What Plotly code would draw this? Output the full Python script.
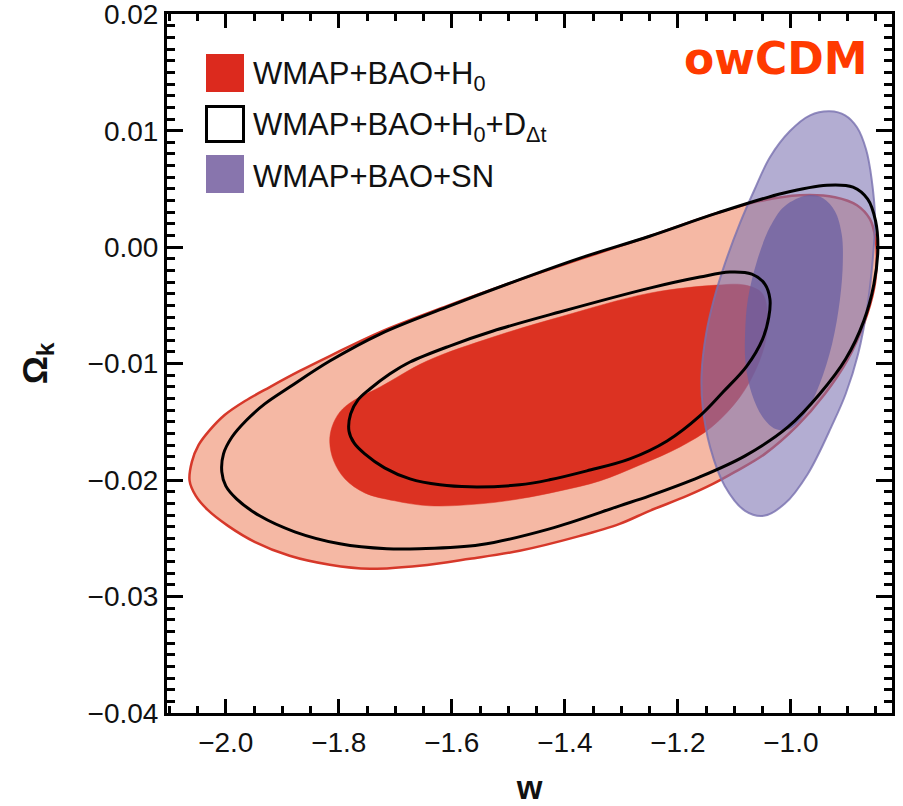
import plotly.graph_objects as go

# ---------------- data ----------------
# WMAP+BAO+H0, outer (95%) contour
red95_w = [-2.064, -2.060, -2.048, -2.028, -2.002, -1.966, -1.922, -1.869, -1.816, -1.727,
           -1.609, -1.492, -1.373, -1.250, -1.131, -1.055, -0.984, -0.922, -0.883, -0.860,
           -0.850, -0.848, -0.853, -0.871, -0.899, -0.940, -0.989, -1.046, -1.099, -1.138,
           -1.184, -1.250, -1.303, -1.373, -1.480, -1.568, -1.657, -1.745, -1.816, -1.887,
           -1.949, -1.996, -2.032, -2.053]
red95_ok = [-0.02007, -0.01844, -0.01698, -0.01569, -0.01441, -0.01321, -0.01201, -0.01063, -0.00935, -0.00729,
            -0.00506, -0.00300, -0.00103, 0.00094, 0.00292, 0.00395, 0.00446, 0.00429, 0.00360, 0.00240,
            0.00069, -0.00120, -0.00360, -0.00660, -0.00961, -0.01261, -0.01535, -0.01775, -0.01930, -0.02033,
            -0.02136, -0.02264, -0.02376, -0.02479, -0.02607, -0.02676, -0.02736, -0.02762, -0.02727, -0.02650,
            -0.02530, -0.02393, -0.02256, -0.02136]

# WMAP+BAO+H0, inner (68%) contour
red68_w = [-1.816, -1.812, -1.798, -1.775, -1.727, -1.644, -1.527, -1.409, -1.250, -1.131,
           -1.081, -1.051, -1.041, -1.044, -1.060, -1.090, -1.140, -1.196, -1.267, -1.338,
           -1.409, -1.480, -1.550, -1.639, -1.701, -1.754, -1.789, -1.809]
red68_ok = [-0.01672, -0.01544, -0.01415, -0.01321, -0.01201, -0.00978, -0.00772, -0.00600, -0.00395, -0.00326,
            -0.00326, -0.00395, -0.00575, -0.00789, -0.01029, -0.01286, -0.01544, -0.01715, -0.01870, -0.02007,
            -0.02093, -0.02161, -0.02204, -0.02221, -0.02178, -0.02110, -0.01990, -0.01835]

# WMAP+BAO+H0+D_dt, outer contour
blk95_w = [-2.007, -2.004, -1.989, -1.963, -1.931, -1.887, -1.816, -1.727, -1.609, -1.492,
           -1.373, -1.250, -1.131, -1.014, -0.936, -0.890, -0.864, -0.850, -0.846, -0.853,
           -0.871, -0.903, -0.949, -1.005, -1.081, -1.161, -1.250, -1.303, -1.427, -1.550,
           -1.657, -1.715, -1.798, -1.878, -1.940, -1.981, -2.000]
blk95_ok = [-0.01930, -0.01775, -0.01630, -0.01484, -0.01346, -0.01201, -0.00978, -0.00746, -0.00515, -0.00300,
            -0.00094, 0.00094, 0.00292, 0.00463, 0.00532, 0.00515, 0.00412, 0.00223, -0.00017, -0.00317,
            -0.00635, -0.00961, -0.01261, -0.01544, -0.01792, -0.01973, -0.02136, -0.02221, -0.02419, -0.02556,
            -0.02590, -0.02590, -0.02547, -0.02444, -0.02307, -0.02161, -0.02050]

# WMAP+BAO+H0+D_dt, inner contour
blk68_w = [-1.782, -1.779, -1.766, -1.745, -1.710, -1.674, -1.604, -1.527, -1.409, -1.250,
           -1.161, -1.108, -1.069, -1.046, -1.037, -1.039, -1.050, -1.078, -1.120, -1.161,
           -1.219, -1.285, -1.361, -1.427, -1.480, -1.568, -1.621, -1.674, -1.719, -1.754,
           -1.773]
blk68_ok = [-0.01578, -0.01432, -0.01312, -0.01218, -0.01089, -0.00986, -0.00849, -0.00720, -0.00557, -0.00352,
            -0.00257, -0.00214, -0.00232, -0.00317, -0.00446, -0.00600, -0.00789, -0.01021, -0.01244, -0.01449,
            -0.01664, -0.01818, -0.01921, -0.01998, -0.02041, -0.02058, -0.02041, -0.01990, -0.01895, -0.01775,
            -0.01681]

# WMAP+BAO+SN, outer contour
pur95_w = [-0.931, -0.904, -0.883, -0.867, -0.857, -0.851, -0.855, -0.864, -0.881, -0.903,
           -0.926, -0.970, -1.011, -1.048, -1.081, -1.117, -1.143, -1.156, -1.158, -1.150,
           -1.136, -1.117, -1.090, -1.064, -1.037, -1.002, -0.966]
pur95_ok = [0.01166, 0.01132, 0.01029, 0.00840, 0.00583, 0.00240, -0.00103, -0.00489, -0.00918, -0.01261,
            -0.01518, -0.01947, -0.02204, -0.02307, -0.02264, -0.02050, -0.01715, -0.01372, -0.01089, -0.00746,
            -0.00446, -0.00146, 0.00206, 0.00497, 0.00772, 0.00995, 0.01132]

# WMAP+BAO+SN, inner contour
pur68_w = [-0.970, -0.943, -0.922, -0.910, -0.908, -0.913, -0.927, -0.949, -0.975, -1.002,
           -1.027, -1.050, -1.069, -1.080, -1.081, -1.076, -1.060, -1.037, -1.011]
pur68_ok = [0.00446, 0.00420, 0.00309, 0.00111, -0.00120, -0.00446, -0.00832, -0.01175, -0.01432, -0.01561,
            -0.01561, -0.01458, -0.01261, -0.01003, -0.00746, -0.00446, -0.00120, 0.00172, 0.00352]

x_range = [-2.104, -0.821]
y_range = [-0.04, 0.02002]
legend_labels = ["WMAP+BAO+H<sub>0</sub>",
                 "WMAP+BAO+H<sub>0</sub>+D<sub>Δt</sub>",
                 "WMAP+BAO+SN"]
model_label = "owCDM"

# ---------------- figure ----------------
W, H = 903, 806
L, R, T, B = 167, 11, 14, 93
PW, PH = W - L - R, H - T - B


def px(xp):
    return (xp - L) / PW


def py(yp):
    return (H - B - yp) / PH


def closed(a):
    return list(a) + [a[0]]


fig = go.Figure()

# red filled regions
fig.add_trace(go.Scatter(x=closed(red95_w), y=closed(red95_ok), mode="lines", fill="toself",
                         fillcolor="#f5b8a4", line=dict(color="#d6382a", width=2.5, shape="spline", smoothing=1.0),
                         name="WMAP+BAO+H0 95%", showlegend=False, hoverinfo="skip"))
fig.add_trace(go.Scatter(x=closed(red68_w), y=closed(red68_ok), mode="lines", fill="toself",
                         fillcolor="#dc3222", line=dict(color="#dc3222", width=0.5, shape="spline", smoothing=1.0),
                         name="WMAP+BAO+H0 68%", showlegend=False, hoverinfo="skip"))
# purple filled regions (translucent)
fig.add_trace(go.Scatter(x=closed(pur95_w), y=closed(pur95_ok), mode="lines", fill="toself",
                         fillcolor="rgba(128,118,180,0.6)",
                         line=dict(color="rgba(120,112,175,0.8)", width=2, shape="spline", smoothing=1.0),
                         name="WMAP+BAO+SN 95%", showlegend=False, hoverinfo="skip"))
fig.add_trace(go.Scatter(x=closed(pur68_w), y=closed(pur68_ok), mode="lines", fill="toself",
                         fillcolor="rgba(104,94,162,0.72)",
                         line=dict(color="rgba(104,94,162,0)", width=0, shape="spline", smoothing=1.0),
                         name="WMAP+BAO+SN 68%", showlegend=False, hoverinfo="skip"))
# black contours on top
for xs, ys, nm in [(blk95_w, blk95_ok, "95%"), (blk68_w, blk68_ok, "68%")]:
    fig.add_trace(go.Scatter(x=closed(xs), y=closed(ys), mode="lines",
                             line=dict(color="black", width=3, shape="spline", smoothing=1.0),
                             name="WMAP+BAO+H0+DΔt " + nm, showlegend=False, hoverinfo="skip"))

# manual legend
sq = [(54, 92, "#dc2a1e", None), (106.5, 141.5, "white", "black"), (155, 193, "#8875ad", None)]
shapes = []
annotations = []
for (y0, y1, fc, lc), lab in zip(sq, legend_labels):
    shapes.append(dict(type="rect", xref="paper", yref="paper",
                       x0=px(206.5 if lc else 206), x1=px(243.5 if lc else 244),
                       y0=py(y1), y1=py(y0), fillcolor=fc,
                       line=dict(color=lc if lc else fc, width=3 if lc else 0)))
    annotations.append(dict(xref="paper", yref="paper", x=px(251), y=py((y0 + y1) / 2 + 3),
                            text=lab, showarrow=False, xanchor="left", yanchor="middle",
                            font=dict(family="Liberation Sans, Arial, sans-serif", size=31, color="#111")))

annotations.append(dict(xref="paper", yref="paper", x=px(775), y=py(59), text="<b>" + model_label + "</b>",
                        showarrow=False, xanchor="center", yanchor="middle",
                        font=dict(family="DejaVu Sans, sans-serif", size=44, color="#ff3a00")))

tickfont = dict(family="Liberation Sans, Arial, sans-serif", size=28, color="#111")
fig.update_layout(
    width=W, height=H,
    margin=dict(l=L, r=R, t=T, b=B, pad=0),
    paper_bgcolor="white", plot_bgcolor="white",
    showlegend=False,
    shapes=shapes, annotations=annotations,
    xaxis=dict(range=x_range, tickmode="linear", tick0=-2.0, dtick=0.2, tickformat=".1f",
               ticks="inside", ticklen=14, tickwidth=2.5, tickcolor="black",
               showline=True, linewidth=3, linecolor="black", mirror="allticks",
               showgrid=False, zeroline=False, tickfont=tickfont, ticklabelstandoff=2,
               ticklabeloverflow="allow", automargin=False,
               minor=dict(tick0=-2.0, dtick=0.05, ticks="inside", ticklen=7, tickwidth=2.5,
                          tickcolor="black", showgrid=False),
               title=dict(text="<b>w</b>", font=dict(family="Liberation Sans, Arial, sans-serif",
                                                      size=33, color="#111"), standoff=24)),
    yaxis=dict(range=y_range, tickmode="linear", tick0=0.0, dtick=0.01, tickformat=".2f",
               ticks="inside", ticklen=16, tickwidth=2.5, tickcolor="black",
               showline=True, linewidth=3, linecolor="black", mirror="allticks",
               showgrid=False, zeroline=False, tickfont=tickfont, ticklabelstandoff=0,
               ticklabeloverflow="allow", automargin=False,
               minor=dict(tick0=0.0, dtick=0.001, ticks="inside", ticklen=8, tickwidth=2.5,
                          tickcolor="black", showgrid=False),
               title=dict(text="<b>Ω<sub>k</sub></b>", font=dict(family="Liberation Sans, Arial, sans-serif",
                                                                  size=35, color="#111"), standoff=30)),
)

fig.write_html("out.html", config={"displayModeBar": False},
               post_script="document.body.style.margin='0px';")
